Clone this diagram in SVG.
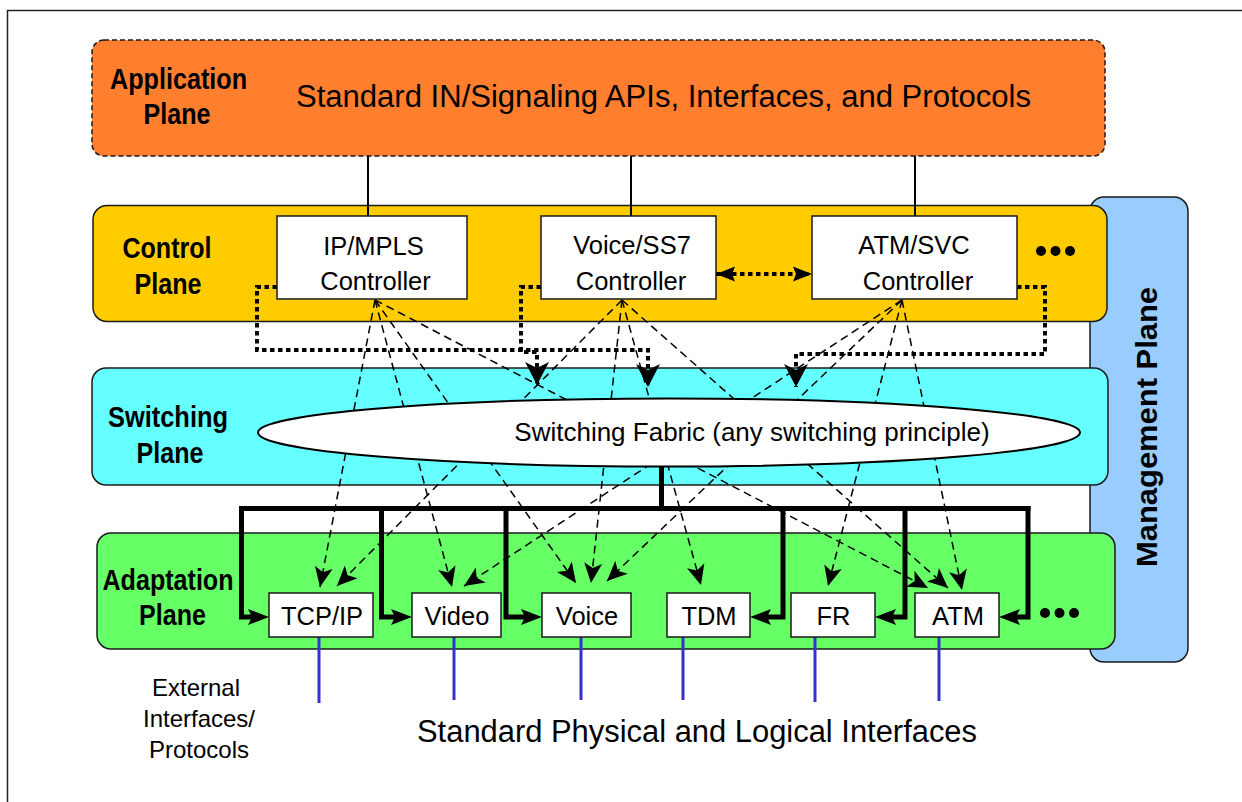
<svg xmlns="http://www.w3.org/2000/svg" width="1242" height="802" viewBox="0 0 1242 802">
<style>
  .plane { stroke: #1a1a1a; stroke-width: 1.5; }
  .lbl { font-family: "Liberation Sans", Arial, sans-serif; font-weight: bold; font-size: 29px; fill: #000; text-anchor: middle; }
  .txt { font-family: "Liberation Sans", Arial, sans-serif; fill: #000; text-anchor: middle; }
  .box { fill: #fff; stroke: #1a1a1a; stroke-width: 1.5; }
  .solid { stroke: #000; stroke-width: 2; fill: none; }
  .dash { stroke: #000; stroke-width: 1.5; stroke-dasharray: 8 5; fill: none; marker-end: url(#dashArrow); }
  .dot { stroke: #000; stroke-width: 4; stroke-dasharray: 4.5 3.5; fill: none; }
  .bus { stroke: #000; stroke-width: 5; fill: none; stroke-linecap: square; }
  .ext { stroke: #3333CC; stroke-width: 3; fill: none; }
</style>
<defs>
  <marker id="dashArrow" viewBox="0 -10 22 20" refX="20" refY="0" markerWidth="22" markerHeight="20" markerUnits="userSpaceOnUse" orient="auto" overflow="visible">
    <path d="M0,-9 L20,0 L0,9 L5,0 Z" fill="#000"/>
  </marker>
  <marker id="dotArrow" viewBox="0 -13 26 26" refX="23" refY="0" markerWidth="26" markerHeight="26" markerUnits="userSpaceOnUse" orient="auto" overflow="visible">
    <path d="M0,-12 L23,0 L0,12 L6,0 Z" fill="#000"/>
  </marker>
  <marker id="biArrow" viewBox="0 -8 20 16" refX="19" refY="0" markerWidth="20" markerHeight="16" markerUnits="userSpaceOnUse" orient="auto-start-reverse" overflow="visible">
    <path d="M0,-7.5 L19,0 L0,7.5 L3,0 Z" fill="#000"/>
  </marker>
  <marker id="busArrow" viewBox="0 -9 22 18" refX="11" refY="0" markerWidth="22" markerHeight="18" markerUnits="userSpaceOnUse" orient="auto" overflow="visible">
    <path d="M0,-8 L21,0 L0,8 L4,0 Z" fill="#000"/>
  </marker>
</defs>

<rect x="0" y="0" width="1242" height="802" fill="#fff"/>
<path d="M7.5,802 V10.5 H1242" fill="none" stroke="#222" stroke-width="1.5"/>

<g id="management-plane">
  <rect class="plane" x="1090" y="197" width="98" height="465" rx="14" fill="#99CCFF"/>
  <text class="lbl" transform="translate(1157,427) rotate(-90)" font-size="31" textLength="280" lengthAdjust="spacingAndGlyphs">Management Plane</text>
</g>

<g id="application-plane">
  <rect class="plane" x="92" y="40" width="1013" height="116" rx="12" fill="#FF7F2F" stroke-dasharray="5 3"/>
  <text class="lbl" x="178.5" y="89" textLength="137" lengthAdjust="spacingAndGlyphs">Application</text>
  <text class="lbl" x="177" y="124" textLength="67" lengthAdjust="spacingAndGlyphs">Plane</text>
  <text class="txt" x="663.5" y="107" font-size="31" textLength="735" lengthAdjust="spacingAndGlyphs">Standard IN/Signaling APIs, Interfaces, and Protocols</text>
</g>

<g id="control-plane">
  <rect class="plane" x="93" y="205.5" width="1014" height="116" rx="14" fill="#FFCC00"/>
  <text class="lbl" x="167" y="258" textLength="89" lengthAdjust="spacingAndGlyphs">Control</text>
  <text class="lbl" x="168" y="294" textLength="67" lengthAdjust="spacingAndGlyphs">Plane</text>
  <circle cx="1041" cy="251" r="5" fill="#000"/>
  <circle cx="1055.5" cy="251" r="5" fill="#000"/>
  <circle cx="1070" cy="251" r="5" fill="#000"/>
</g>

<g id="switching-plane">
  <rect class="plane" x="92" y="368" width="1016" height="117" rx="14" fill="#66FFFF"/>
  <text class="lbl" x="168" y="427" textLength="120" lengthAdjust="spacingAndGlyphs">Switching</text>
  <text class="lbl" x="170" y="463" textLength="67" lengthAdjust="spacingAndGlyphs">Plane</text>
</g>

<g id="adaptation-plane">
  <rect class="plane" x="97" y="533" width="1018" height="116" rx="14" fill="#66FF66"/>
  <text class="lbl" x="168" y="590" textLength="131" lengthAdjust="spacingAndGlyphs">Adaptation</text>
  <text class="lbl" x="172.5" y="625" textLength="67" lengthAdjust="spacingAndGlyphs">Plane</text>
  <circle cx="1045" cy="613" r="5" fill="#000"/>
  <circle cx="1059.5" cy="613" r="5" fill="#000"/>
  <circle cx="1074" cy="613" r="5" fill="#000"/>
</g>

<g id="connectors">
  <path class="solid" d="M368,156 V216"/>
  <path class="solid" d="M631,156 V216"/>
  <path class="solid" d="M915,156 V216"/>
  <path class="dash" d="M375,300 L320,587"/>
  <path class="dash" d="M375,300 L452,587"/>
  <path class="dash" d="M375,300 L576,583"/>
  <path class="dash" d="M375,300 L928,588"/>
  <path class="dash" d="M622,300 L337,586"/>
  <path class="dash" d="M622,300 L591,583"/>
  <path class="dash" d="M622,300 L701,585"/>
  <path class="dash" d="M622,300 L948,588"/>
  <path class="dash" d="M902,300 L464,586"/>
  <path class="dash" d="M902,300 L607,581"/>
  <path class="dash" d="M902,300 L828,586"/>
  <path class="dash" d="M902,300 L962,590"/>
  <path class="dot" d="M277,287 H257 V350 H648 V387" marker-end="url(#dotArrow)"/>
  <path class="dot" d="M541,287 H521 V352 H537 V385" marker-end="url(#dotArrow)"/>
  <path class="dot" d="M1017,287 H1045 V354 H796 V387" marker-end="url(#dotArrow)"/>
  <path class="dot" d="M716,274 H812" marker-start="url(#biArrow)" marker-end="url(#biArrow)"/>
  <path class="bus" d="M661.5,466 V508.5"/>
  <path class="bus" d="M241.5,508.5 H1028"/>
  <path class="bus" d="M241.5,508.5 V617 H259" marker-end="url(#busArrow)"/>
  <path class="bus" d="M381.5,508.5 V617 H402" marker-end="url(#busArrow)"/>
  <path class="bus" d="M506,508.5 V617 H532" marker-end="url(#busArrow)"/>
  <path class="bus" d="M783,508.5 V617 H760" marker-end="url(#busArrow)"/>
  <path class="bus" d="M905,508.5 V617 H885" marker-end="url(#busArrow)"/>
  <path class="bus" d="M1028,508.5 V617 H1009" marker-end="url(#busArrow)"/>
  <path class="ext" d="M319,637 V703"/>
  <path class="ext" d="M454,637 V700"/>
  <path class="ext" d="M581,637 V700"/>
  <path class="ext" d="M683,637 V700"/>
  <path class="ext" d="M815,637 V702"/>
  <path class="ext" d="M939,637 V701"/>
</g>

<g id="switching-fabric">
  <ellipse cx="669" cy="432.5" rx="411" ry="34" fill="#fff" stroke="#000" stroke-width="2"/>
  <text class="txt" x="752" y="441" font-size="26">Switching Fabric (any switching principle)</text>
</g>

<g id="ip-mpls-controller">
  <rect class="box" x="277" y="216" width="190" height="83"/>
  <text class="txt" x="373.5" y="255" font-size="25.5">IP/MPLS</text>
  <text class="txt" x="375.5" y="290" font-size="25.5">Controller</text>
</g>
<g id="voice-ss7-controller">
  <rect class="box" x="541" y="216" width="175" height="83"/>
  <text class="txt" x="632" y="254" font-size="25.5">Voice/SS7</text>
  <text class="txt" x="631" y="290" font-size="25.5">Controller</text>
</g>
<g id="atm-svc-controller">
  <rect class="box" x="812" y="216" width="205" height="83"/>
  <text class="txt" x="914" y="254" font-size="25.5">ATM/SVC</text>
  <text class="txt" x="918" y="290" font-size="25.5">Controller</text>
</g>

<g id="tcpip">
  <rect class="box" x="269" y="593" width="104" height="44"/>
  <text class="txt" x="322" y="625" font-size="25.5">TCP/IP</text>
</g>
<g id="video">
  <rect class="box" x="412" y="593" width="89" height="44"/>
  <text class="txt" x="457" y="625" font-size="25.5">Video</text>
</g>
<g id="voice">
  <rect class="box" x="542" y="593" width="89" height="44"/>
  <text class="txt" x="587" y="625" font-size="25.5">Voice</text>
</g>
<g id="tdm">
  <rect class="box" x="667" y="593" width="83" height="44"/>
  <text class="txt" x="709" y="625" font-size="25.5">TDM</text>
</g>
<g id="fr">
  <rect class="box" x="791" y="593" width="84" height="44"/>
  <text class="txt" x="833.5" y="625" font-size="25.5">FR</text>
</g>
<g id="atm">
  <rect class="box" x="915" y="593" width="84" height="44"/>
  <text class="txt" x="958" y="625" font-size="25.5">ATM</text>
</g>

<g id="external-label">
  <text class="txt" x="196" y="696" font-size="24">External</text>
  <text class="txt" x="199" y="727" font-size="24">Interfaces/</text>
  <text class="txt" x="199" y="758" font-size="24">Protocols</text>
</g>
<g id="interfaces-label">
  <text class="txt" x="697" y="742" font-size="31" textLength="560" lengthAdjust="spacingAndGlyphs">Standard Physical and Logical Interfaces</text>
</g>
</svg>
